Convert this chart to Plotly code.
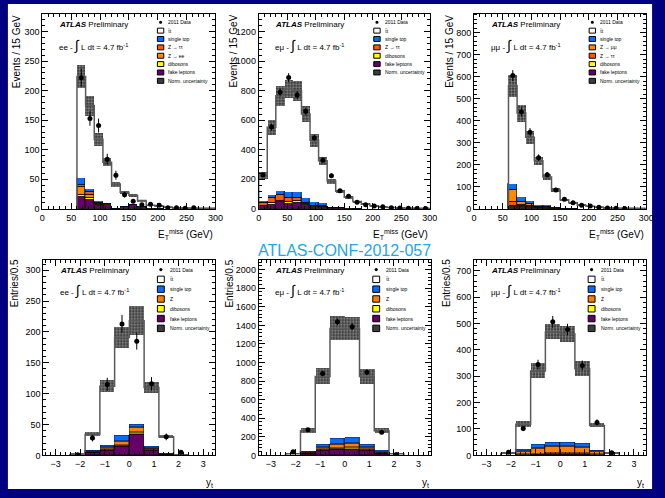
import numpy as np
import plotly.graph_objects as go

W, H = 665, 498
NAVY = "#000080"
FONT = "Liberation Sans"

C_ST = "#0a6cff"
C_ZTT = "#ff5a00"
C_ZLL = "#ff8a00"
C_Z = "#ff7f00"
C_DIB = "#ffff00"
C_FAKE = "#660066"

# ---------------- bin edges ----------------
met_edges_60 = [60, 75, 90, 105, 120, 135, 150, 165, 180, 195, 210, 225, 240, 255, 270, 285, 300]
met_edges_0 = [0, 15, 30, 45, 60, 75, 90, 105, 120, 135, 150, 165, 180, 195, 210, 225, 240, 255, 270, 285, 300]
yt_edges = [-2.4, -1.8, -1.2, -0.6, 0.0, 0.6, 1.2, 1.8, 2.4]

# ---------------- ee, MET ----------------
ee_met_data = [222, 153, 141, 84, 57, 24, 13, 7, 8, 6, 2, 2, 1, 2, 0, 0]
ee_met_tt = [172, 141, 104, 68, 40.5, 23, 15, 9, 4.5, 4, 2, 1.5, 1, 0.7, 0.3, 0.3]
ee_met_st = [11, 6, 3, 2, 1, 1, 1, 1, 0.5, 0.5, 0.3, 0.2, 0.2, 0.1, 0.1, 0.1]
ee_met_ztt = [3, 4, 3, 0.5, 0, 0, 0, 0, 0, 0, 0, 0, 0, 0, 0, 0]
ee_met_zll = [14, 6, 2, 0.5, 0, 0, 0, 0, 0, 0, 0, 0, 0, 0, 0, 0]
ee_met_dib = [3, 2, 1, 1, 0, 0, 0, 0, 0.3, 0.2, 0.2, 0.1, 0.1, 0.1, 0, 0]
ee_met_fake = [21, 16, 5, 7, 0.5, 4, 7, 4, 0.7, 0.3, 0.5, 0.2, 0.2, 0.1, 0.1, 0.1]
ee_met_unc = [20, 17, 11, 7, 4, 3, 2.5, 1.5, 0.8, 0.6, 0.4, 0.3, 0.2, 0.2, 0.1, 0.1]

# ---------------- emu, MET ----------------
em_met_data = [230, 554, 789, 889, 770, 660, 480, 330, 225, 122, 85, 45, 28, 20, 15, 8, 6, 4, 3, 2]
em_met_tt = [171, 456, 641, 702, 688, 569, 420, 286, 171, 105.5, 69, 44.5, 28.5, 20, 13.5, 9, 6.2, 4.4, 2.6, 1.7]
em_met_st = [15, 25, 33, 40, 40, 33, 22, 20, 8, 8, 5, 3, 2, 1, 0.8, 0.5, 0.4, 0.3, 0.2, 0.2]
em_met_ztt = [18, 34, 37, 25, 20, 8, 3, 2, 1, 0.5, 0, 0, 0, 0, 0, 0, 0, 0, 0, 0]
em_met_dib = [4, 8, 10, 12, 12, 8, 5, 4, 2, 1, 1, 0.5, 0.5, 0.5, 0.3, 0.2, 0.2, 0.1, 0.1, 0.05]
em_met_fake = [18, 30, 45, 35, 40, 25, 15, 13, 6, 5, 3, 2, 1, 0.5, 0.4, 0.3, 0.2, 0.2, 0.1, 0.05]
em_met_unc = [22, 50, 67, 60, 67, 55, 45, 28, 17, 12, 7, 4.5, 3, 2, 1.5, 1, 0.7, 0.5, 0.3, 0.2]

# ---------------- mumu, MET ----------------
mm_met_data = [605, 440, 348, 232, 155, 86, 44, 28, 16, 13, 7, 4, 3, 2, 0, 0]
mm_met_tt = [447, 381, 288, 198, 128, 78, 37, 24.5, 15.2, 10.7, 7.2, 4.5, 2.7, 1.8, 1.4, 0.9]
mm_met_st = [26, 24, 15, 10, 10, 5, 3, 2, 1, 0.8, 0.5, 0.3, 0.2, 0.1, 0.1, 0.1]
mm_met_zll = [57, 12, 8, 3, 2, 1, 0.5, 0.3, 0.2, 0.1, 0, 0, 0, 0, 0, 0]
mm_met_ztt = [15, 6, 4, 2, 1, 0.5, 0.3, 0.2, 0.1, 0, 0, 0, 0, 0, 0, 0]
mm_met_dib = [5, 4, 4, 2, 2, 1, 0.7, 0.5, 0.3, 0.2, 0.2, 0.1, 0.1, 0.1, 0, 0]
mm_met_fake = [10, 8, 6, 3, 2, 0.5, 0.5, 0.5, 0.2, 0.2, 0.1, 0.1, 0, 0, 0, 0]
mm_met_unc = [50, 38, 30, 20, 14, 8, 4, 2.5, 1.5, 1, 0.7, 0.5, 0.3, 0.2, 0.1, 0.1]

# ---------------- ee, y_t ----------------
ee_yt_data = [1, 28, 115, 213, 185, 116, 30, 5]
ee_yt_tt = [0.5, 26, 95, 159, 167, 95, 27, 0.5]
ee_yt_st = [0.2, 2, 4, 9, 6, 3, 1, 0.1]
ee_yt_z = [0, 1, 4, 7, 8, 3, 0, 0]
ee_yt_dib = [0, 0, 1, 2, 3, 1, 0, 0]
ee_yt_fake = [0.8, 5, 8, 14, 34, 8, 2, 0.4]
ee_yt_unc = [0.3, 3, 10, 17, 24, 9, 2.5, 0.2]

# ---------------- emu, y_t ----------------
em_yt_data = [40, 277, 881, 1439, 1385, 895, 249, 10]
em_yt_tt = [8, 221, 728, 1185, 1175, 728, 215, 10]
em_yt_st = [3, 12, 32, 62, 62, 32, 14, 2]
em_yt_z = [2, 8, 25, 40, 40, 25, 10, 1]
em_yt_dib = [0, 5, 15, 18, 18, 15, 6, 1]
em_yt_fake = [5, 20, 50, 62, 70, 50, 20, 4]
em_yt_unc = [3, 25, 82, 125, 125, 80, 25, 3]

# ---------------- mumu, y_t ----------------
mm_yt_data = [12, 102, 344, 506, 477, 341, 125, 10]
mm_yt_tt = [5, 95, 280, 418, 410, 284, 93, 5]
mm_yt_st = [1, 6, 15, 15, 15, 12, 5, 1]
mm_yt_z = [2, 14, 20, 28, 28, 25, 12, 2]
mm_yt_dib = [0, 2, 3, 4, 4, 4, 2, 0]
mm_yt_fake = [0, 1, 2, 3, 3, 3, 1, 0]
mm_yt_unc = [1, 10, 30, 30, 30, 30, 8, 1]

TT = "t\u0304t"
leg_ee = ["2011 Data", TT, "single top", "Z \u2192 \u03c4\u03c4", "Z \u2192 ee", "dibosons", "fake leptons", "Norm. uncertainty"]
leg_em = ["2011 Data", TT, "single top", "Z \u2192 \u03c4\u03c4", "dibosons", "fake leptons", "Norm. uncertainty"]
leg_mm = ["2011 Data", TT, "single top", "Z \u2192 \u03bc\u03bc", "Z \u2192 \u03c4\u03c4", "dibosons", "fake leptons", "Norm. uncertainty"]
leg_yt = ["2011 Data", TT, "single top", "Z", "dibosons", "fake leptons", "Norm. uncertainty"]
leg_col_ee = [None, "white", C_ST, C_ZTT, C_ZLL, C_DIB, C_FAKE, "unc"]
leg_col_em = [None, "white", C_ST, C_ZTT, C_DIB, C_FAKE, "unc"]
leg_col_mm = [None, "white", C_ST, C_ZLL, C_ZTT, C_DIB, C_FAKE, "unc"]
leg_col_yt = [None, "white", C_ST, C_Z, C_DIB, C_FAKE, "unc"]

MET_T = "E<sub>T</sub><sup>miss</sup> (GeV)"

panels = [
    dict(edges=met_edges_60, data=ee_met_data, tt=ee_met_tt, unc=ee_met_unc,
         comps=[(ee_met_fake, C_FAKE), (ee_met_dib, C_DIB), (ee_met_zll, C_ZLL), (ee_met_ztt, C_ZTT), (ee_met_st, C_ST)],
         frame=(40, 216, 14, 211), xr=[0, 300], yr=[0, 330], xdt=50, xmn=10, ydt=50, ymn=10,
         ch="ee", leg=leg_ee, legc=leg_col_ee, ytitle="Events / 15 GeV", xtitle=MET_T, top=True, ytx=14),
    dict(edges=met_edges_0, data=em_met_data, tt=em_met_tt, unc=em_met_unc,
         comps=[(em_met_fake, C_FAKE), (em_met_dib, C_DIB), (em_met_ztt, C_ZTT), (em_met_st, C_ST)],
         frame=(260, 434, 14, 211), xr=[0, 300], yr=[0, 1320], xdt=50, xmn=10, ydt=200, ymn=40,
         ch="e\u03bc", leg=leg_em, legc=leg_col_em, ytitle="Events / 15 GeV", xtitle=MET_T, top=True, ytx=234),
    dict(edges=met_edges_60, data=mm_met_data, tt=mm_met_tt, unc=mm_met_unc,
         comps=[(mm_met_fake, C_FAKE), (mm_met_dib, C_DIB), (mm_met_ztt, C_ZTT), (mm_met_zll, C_ZLL), (mm_met_st, C_ST)],
         frame=(479, 654, 14, 211), xr=[0, 300], yr=[0, 885], xdt=50, xmn=10, ydt=100, ymn=20,
         ch="\u03bc\u03bc", leg=leg_mm, legc=leg_col_mm, ytitle="Events / 15 GeV", xtitle=MET_T, top=True, ytx=454),
    dict(edges=yt_edges, data=ee_yt_data, tt=ee_yt_tt, unc=ee_yt_unc,
         comps=[(ee_yt_fake, C_FAKE), (ee_yt_dib, C_DIB), (ee_yt_z, C_Z), (ee_yt_st, C_ST)],
         frame=(41, 216, 263, 460), xr=[-3.5, 3.5], yr=[0, 316], xdt=1, xmn=0.2, ydt=50, ymn=10,
         ch="ee", leg=leg_yt, legc=leg_col_yt, ytitle="Entries/0.5", xtitle="y<sub>t</sub>", top=False, ytx=12),
    dict(edges=yt_edges, data=em_yt_data, tt=em_yt_tt, unc=em_yt_unc,
         comps=[(em_yt_fake, C_FAKE), (em_yt_dib, C_DIB), (em_yt_z, C_Z), (em_yt_st, C_ST)],
         frame=(260, 435, 263, 460), xr=[-3.5, 3.5], yr=[0, 2100], xdt=1, xmn=0.2, ydt=200, ymn=40,
         ch="e\u03bc", leg=leg_yt, legc=leg_col_yt, ytitle="Entries/0.5", xtitle="y<sub>t</sub>", top=False, ytx=230),
    dict(edges=yt_edges, data=mm_yt_data, tt=mm_yt_tt, unc=mm_yt_unc,
         comps=[(mm_yt_fake, C_FAKE), (mm_yt_dib, C_DIB), (mm_yt_z, C_Z), (mm_yt_st, C_ST)],
         frame=(479, 654, 263, 460), xr=[-3.5, 3.5], yr=[0, 739], xdt=1, xmn=0.2, ydt=100, ymn=20,
         ch="\u03bc\u03bc", leg=leg_yt, legc=leg_col_yt, ytitle="Entries/0.5", xtitle="y<sub>t</sub>", top=False, ytx=451),
]


def px(x):
    return x / W


def py(y):
    return 1 - y / H


fig = go.Figure()
shapes = []
annots = []

# white page
shapes.append(dict(type="rect", xref="paper", yref="paper", x0=px(5), x1=px(660), y0=py(494), y1=py(4),
                   fillcolor="white", line=dict(width=0), layer="below"))

PATTERN = dict(shape=".", fgcolor="#eeeeee", bgcolor="#303030", size=3, solidity=0.45)

for i, p in enumerate(panels, start=1):
    xa = "x" if i == 1 else f"x{i}"
    ya = "y" if i == 1 else f"y{i}"
    edges = np.array(p["edges"], float)
    centers = 0.5 * (edges[:-1] + edges[1:])
    widths = np.diff(edges)
    base = np.zeros(len(centers))
    for vals, color in p["comps"]:
        v = np.array(vals, float)
        fig.add_trace(go.Bar(x=centers, y=v, base=base.copy(), width=widths, xaxis=xa, yaxis=ya,
                             marker=dict(color=color, line=dict(color="black", width=0.8)),
                             showlegend=False, hoverinfo="skip"))
        base = base + v
    tt = np.array(p["tt"], float)
    fig.add_trace(go.Bar(x=centers, y=tt, base=base.copy(), width=widths, xaxis=xa, yaxis=ya,
                         marker=dict(color="white", line=dict(width=0)), showlegend=False, hoverinfo="skip"))
    total = base + tt
    unc = np.array(p["unc"], float)
    fig.add_trace(go.Bar(x=centers, y=2 * unc, base=total - unc, width=widths, xaxis=xa, yaxis=ya,
                         marker=dict(color="#303030", pattern=PATTERN, line=dict(width=0)),
                         showlegend=False, hoverinfo="skip"))
    xs = np.concatenate([[edges[0]], edges, [edges[-1]]])
    ys = np.concatenate([[0], total, [total[-1], 0]])
    fig.add_trace(go.Scatter(x=xs, y=ys, mode="lines", xaxis=xa, yaxis=ya,
                             line=dict(color="#5a5a5a", width=1.5, shape="hv"), showlegend=False, hoverinfo="skip"))
    d = np.array(p["data"], float)
    m = d > 0
    fig.add_trace(go.Scatter(x=centers[m], y=d[m], mode="markers", xaxis=xa, yaxis=ya,
                             marker=dict(color="black", size=5),
                             error_y=dict(type="sqrt", color="black", thickness=1, width=0),
                             showlegend=False, hoverinfo="skip"))

    fl, fr, ft, fb = p["frame"]
    common = dict(showline=True, linecolor="black", linewidth=1, mirror="allticks", ticks="inside",
                  ticklen=6, tickcolor="black", tickwidth=1, showgrid=False, zeroline=False,
                  tickfont=dict(family=FONT, size=9, color="black"), fixedrange=True)
    xkey = "xaxis" if i == 1 else f"xaxis{i}"
    ykey = "yaxis" if i == 1 else f"yaxis{i}"
    fig.layout[xkey] = dict(domain=[px(fl), px(fr)], range=p["xr"], dtick=p["xdt"], tick0=0, anchor=ya,
                            minor=dict(ticks="inside", ticklen=3, dtick=p["xmn"], tick0=0, tickcolor="black"),
                            **common)
    fig.layout[ykey] = dict(domain=[py(fb), py(ft)], range=p["yr"], dtick=p["ydt"], tick0=0, anchor=xa,
                            minor=dict(ticks="inside", ticklen=3, dtick=p["ymn"], tick0=0, tickcolor="black"),
                            **common)

    # texts
    top = p["top"]
    y_atlas = 25 if top else 273
    y_lumi = 45 if top else 293
    annots.append(dict(x=px(fl + 15), y=py(y_atlas), xref="paper", yref="paper", xanchor="left", yanchor="middle",
                       text="<b><i>ATLAS</i></b> Preliminary", showarrow=False,
                       font=dict(family=FONT, size=8, color="black")))
    annots.append(dict(x=px(fl + 15), y=py(y_lumi), xref="paper", yref="paper", xanchor="left", yanchor="middle",
                       text=p["ch"] + " - <span style='font-size:14px'>\u222b</span> L dt = 4.7 fb<sup>-1</sup>",
                       showarrow=False, font=dict(family=FONT, size=8, color="black")))
    # axis titles
    annots.append(dict(x=px(p["ytx"]), y=py(13 if top else 260), xref="paper", yref="paper",
                       xanchor="center", yanchor="top", textangle=-90, text=p["ytitle"], showarrow=False,
                       font=dict(family=FONT, size=10, color="black")))
    annots.append(dict(x=px(fr), y=py(237 if top else 488), xref="paper", yref="paper",
                       xanchor="right", yanchor="middle", text=p["xtitle"], showarrow=False,
                       font=dict(family=FONT, size=10, color="black")))

    # legend
    if top:
        y0, step, bw, bh, bx, tx, lf = 22.5, 8.45, 6.5, 5.0, fl + 117, fl + 126, 5
    else:
        y0, step, bw, bh, bx, tx, lf = 272.3, 9.9, 7.0, 6.5, fl + 116, fl + 127, 5
    for k, (lab, col) in enumerate(zip(p["leg"], p["legc"])):
        yy = y0 + k * step
        if col is None:
            shapes.append(dict(type="circle", xref="paper", yref="paper",
                               x0=px(bx + bw / 2 - 1.6), x1=px(bx + bw / 2 + 1.6),
                               y0=py(yy + 1.6), y1=py(yy - 1.6), fillcolor="black", line=dict(width=0)))
        else:
            fc = "#3c3c3c" if col == "unc" else col
            shapes.append(dict(type="rect", xref="paper", yref="paper",
                               x0=px(bx), x1=px(bx + bw), y0=py(yy + bh / 2), y1=py(yy - bh / 2),
                               fillcolor=fc, line=dict(color="black", width=1)))
        annots.append(dict(x=px(tx), y=py(yy), xref="paper", yref="paper", xanchor="left", yanchor="middle",
                           text=lab, showarrow=False, font=dict(family=FONT, size=lf, color="black")))

annots.append(dict(x=px(347), y=py(253), xref="paper", yref="paper", xanchor="center", yanchor="middle",
                   text="ATLAS-CONF-2012-057", showarrow=False,
                   font=dict(family=FONT, size=16, color="#22a7e6")))

fig.update_layout(width=W, height=H, autosize=False, margin=dict(l=0, r=0, t=0, b=0),
                  paper_bgcolor=NAVY, plot_bgcolor="white", barmode="overlay", bargap=0,
                  showlegend=False, shapes=shapes, annotations=annots)

fig.write_html("out.html")
